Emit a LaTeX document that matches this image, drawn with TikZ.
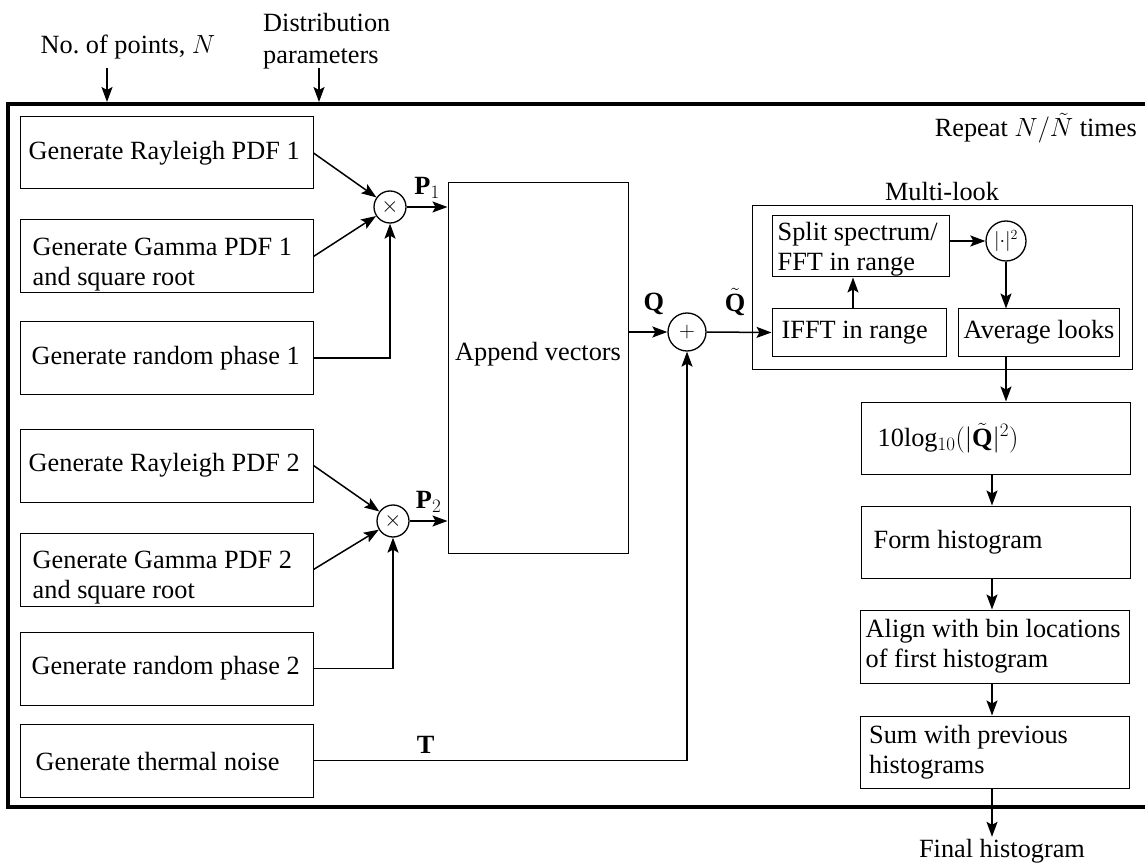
\RequirePackage{fix-cm}
\documentclass[tikz,border=0pt]{standalone}
\usepackage{fontspec}
\setmainfont{Liberation Serif}
\DeclareMathSizes{26.3}{26.3}{19}{14}
\usetikzlibrary{arrows.meta,calc}
\begin{document}
\begin{tikzpicture}[x=1pt,y=-1pt,
  every node/.style={font=\fontsize{26.3}{30}\selectfont},
  lab/.style={inner sep=0pt},
  t/.style={lab, anchor=west, align=left, xshift=#1},
  box/.style={draw, line width=1pt, inner sep=0pt},
  lbox/.style={box, minimum width=293pt},
  rbox/.style={box, minimum width=269pt},
  mult/.style={draw, circle, line width=1.3pt, minimum size=32pt, inner sep=0pt},
  arr/.style={line width=1.5pt, -{Stealth[length=15pt,width=11pt,inset=3pt]}}
]
\useasboundingbox (0,0) rectangle (1145,866);
% outer frame (right edge outside the picture)
\draw[line width=4pt] (1150,104) -- (8,104) -- (8,807) -- (1150,807);

% inputs
\node[lab] (npts) at (128,47) {No.\ of points, $N$};
\node[lab, align=left, anchor=west] (dist) at (263,41) {Distribution\\[2pt]parameters};
\coordinate (inN) at (107,102);
\coordinate (inD) at (319,102);
\draw[arr] (inN |- 0,68) -- (inN);
\draw[arr] (inD |- 0,68) -- (inD);
\node[lab, anchor=east] (rep) at (1137,128) {Repeat $N/\tilde{N}$ times};

% left column
\node[lbox, minimum height=72pt, label={[t=9pt]west:Generate Rayleigh PDF 1}] (r1) at (166.5,153) {};
\node[lbox, minimum height=73pt, label={[t=13pt, yshift=-8pt]west:{Generate Gamma PDF 1\\and square root}}] (g1) at (166.5,256.5) {};
\node[lbox, minimum height=72pt, label={[t=12pt]west:Generate random phase 1}] (p1) at (166.5,358) {};
\node[lbox, minimum height=73pt, label={[t=9pt]west:Generate Rayleigh PDF 2}] (r2) at (166.5,465.5) {};
\node[lbox, minimum height=73pt, label={[t=13pt, yshift=-8pt]west:{Generate Gamma PDF 2\\and square root}}] (g2) at (166.5,569.5) {};
\node[lbox, minimum height=73pt, label={[t=12pt]west:Generate random phase 2}] (p2) at (166.5,668.5) {};
\node[lbox, minimum height=73pt, label={[t=16pt, yshift=-1pt]west:Generate thermal noise}] (th) at (166.5,760.5) {};

% multipliers
\node[mult] (m1) at (390,207) {\fontsize{22}{22}\selectfont$\times$};
\node[mult] (m2) at (393,521) {\fontsize{22}{22}\selectfont$\times$};

\draw[arr] (r1.east) -- (m1);
\draw[arr] (g1.east) -- (m1);
\draw[arr] (p1.east) -| (m1.south);
\draw[arr] (r2.east) -- (m2);
\draw[arr] (g2.east) -- (m2);
\draw[arr] (p2.east) -| (m2.south);

% append
\node[box, minimum width=180pt, minimum height=370pt, label={[lab, yshift=14pt]center:Append vectors}] (app) at (538,368) {};
\draw[arr] (m1.east) -- (m1.east -| app.west) node[lab, midway, above=8pt] {$\mathbf{P}_1$};
\draw[arr] (m2.east) -- (m2.east -| app.west) node[lab, midway, above=8pt] {$\mathbf{P}_2$};

% sum
\node[mult, minimum size=38pt] (sum) at (687,332) {\fontsize{22}{22}\selectfont$+$};
\draw[arr] (sum -| app.east) -- (sum.west) node[lab, midway, above=16pt, xshift=6pt] {$\mathbf{Q}$};
\draw[arr] (th.east) -- (th.east -| sum) node[lab, pos=0.3, above=6pt] {$\mathbf{T}$} -- (sum.south);

% multi-look
\node[box, minimum width=380pt, minimum height=163pt, label={[lab, yshift=5pt]north:Multi-look}] (ml) at (942,287.5) {};
\node[box, minimum width=177pt, minimum height=61pt, label={[t=6pt, yshift=-3pt]west:{Split spectrum/\\FFT in range}}] (split) at (860.5,246.5) {};
\node[box, minimum width=174pt, minimum height=47pt, label={[t=10pt]west:IFFT in range}] (ifft) at (859,332.5) {};
\node[box, minimum width=161pt, minimum height=47pt, label={[t=6pt]west:Average looks}] (avg) at (1038.5,332.5) {};
\node[mult, minimum size=40pt] (sq) at (1006,241) {\fontsize{20}{20}\selectfont$|{\cdot}|^2$};

\draw[arr] (sum.east) -- (ifft.west) node[lab, midway, above=16pt, xshift=-4pt] {$\tilde{\mathbf{Q}}$};
\draw[arr] ($(ifft.north)+(-6,0)$) -- ($(ifft.north |- split.south)+(-6,0)$);
\draw[arr] (split.east |- sq) -- (sq.west);
\draw[arr] (sq.south) -- (sq.south |- avg.north);

% right column
\coordinate (cx) at (992,0);
\node[rbox, minimum height=72pt, label={[t=17pt]west:10log$_{10}(|\tilde{\mathbf{Q}}|^2)$}] (lg) at (995.5,438) {};
\node[rbox, minimum height=72pt, label={[t=13pt]west:Form histogram}] (fh) at (995.5,542) {};
\node[rbox, minimum height=73pt, label={[t=6pt]west:{Align with bin locations\\of first histogram}}] (al) at (994.5,646.5) {};
\node[rbox, minimum height=72pt, label={[t=9pt]west:{Sum with previous\\histograms}}] (sm) at (995,752) {};
\node[lab] (fin) at (1002,851) {Final histogram};

\draw[arr] (avg.south -| sq) -- (lg.north -| sq);
\draw[arr] (lg.south -| cx) -- (fh.north -| cx);
\draw[arr] (fh.south -| cx) -- (al.north -| cx);
\draw[arr] (al.south -| cx) -- (sm.north -| cx);
\draw[arr] (sm.south -| cx) -- ($(fin.north -| cx)+(0,-2)$);
\end{tikzpicture}
\end{document}
